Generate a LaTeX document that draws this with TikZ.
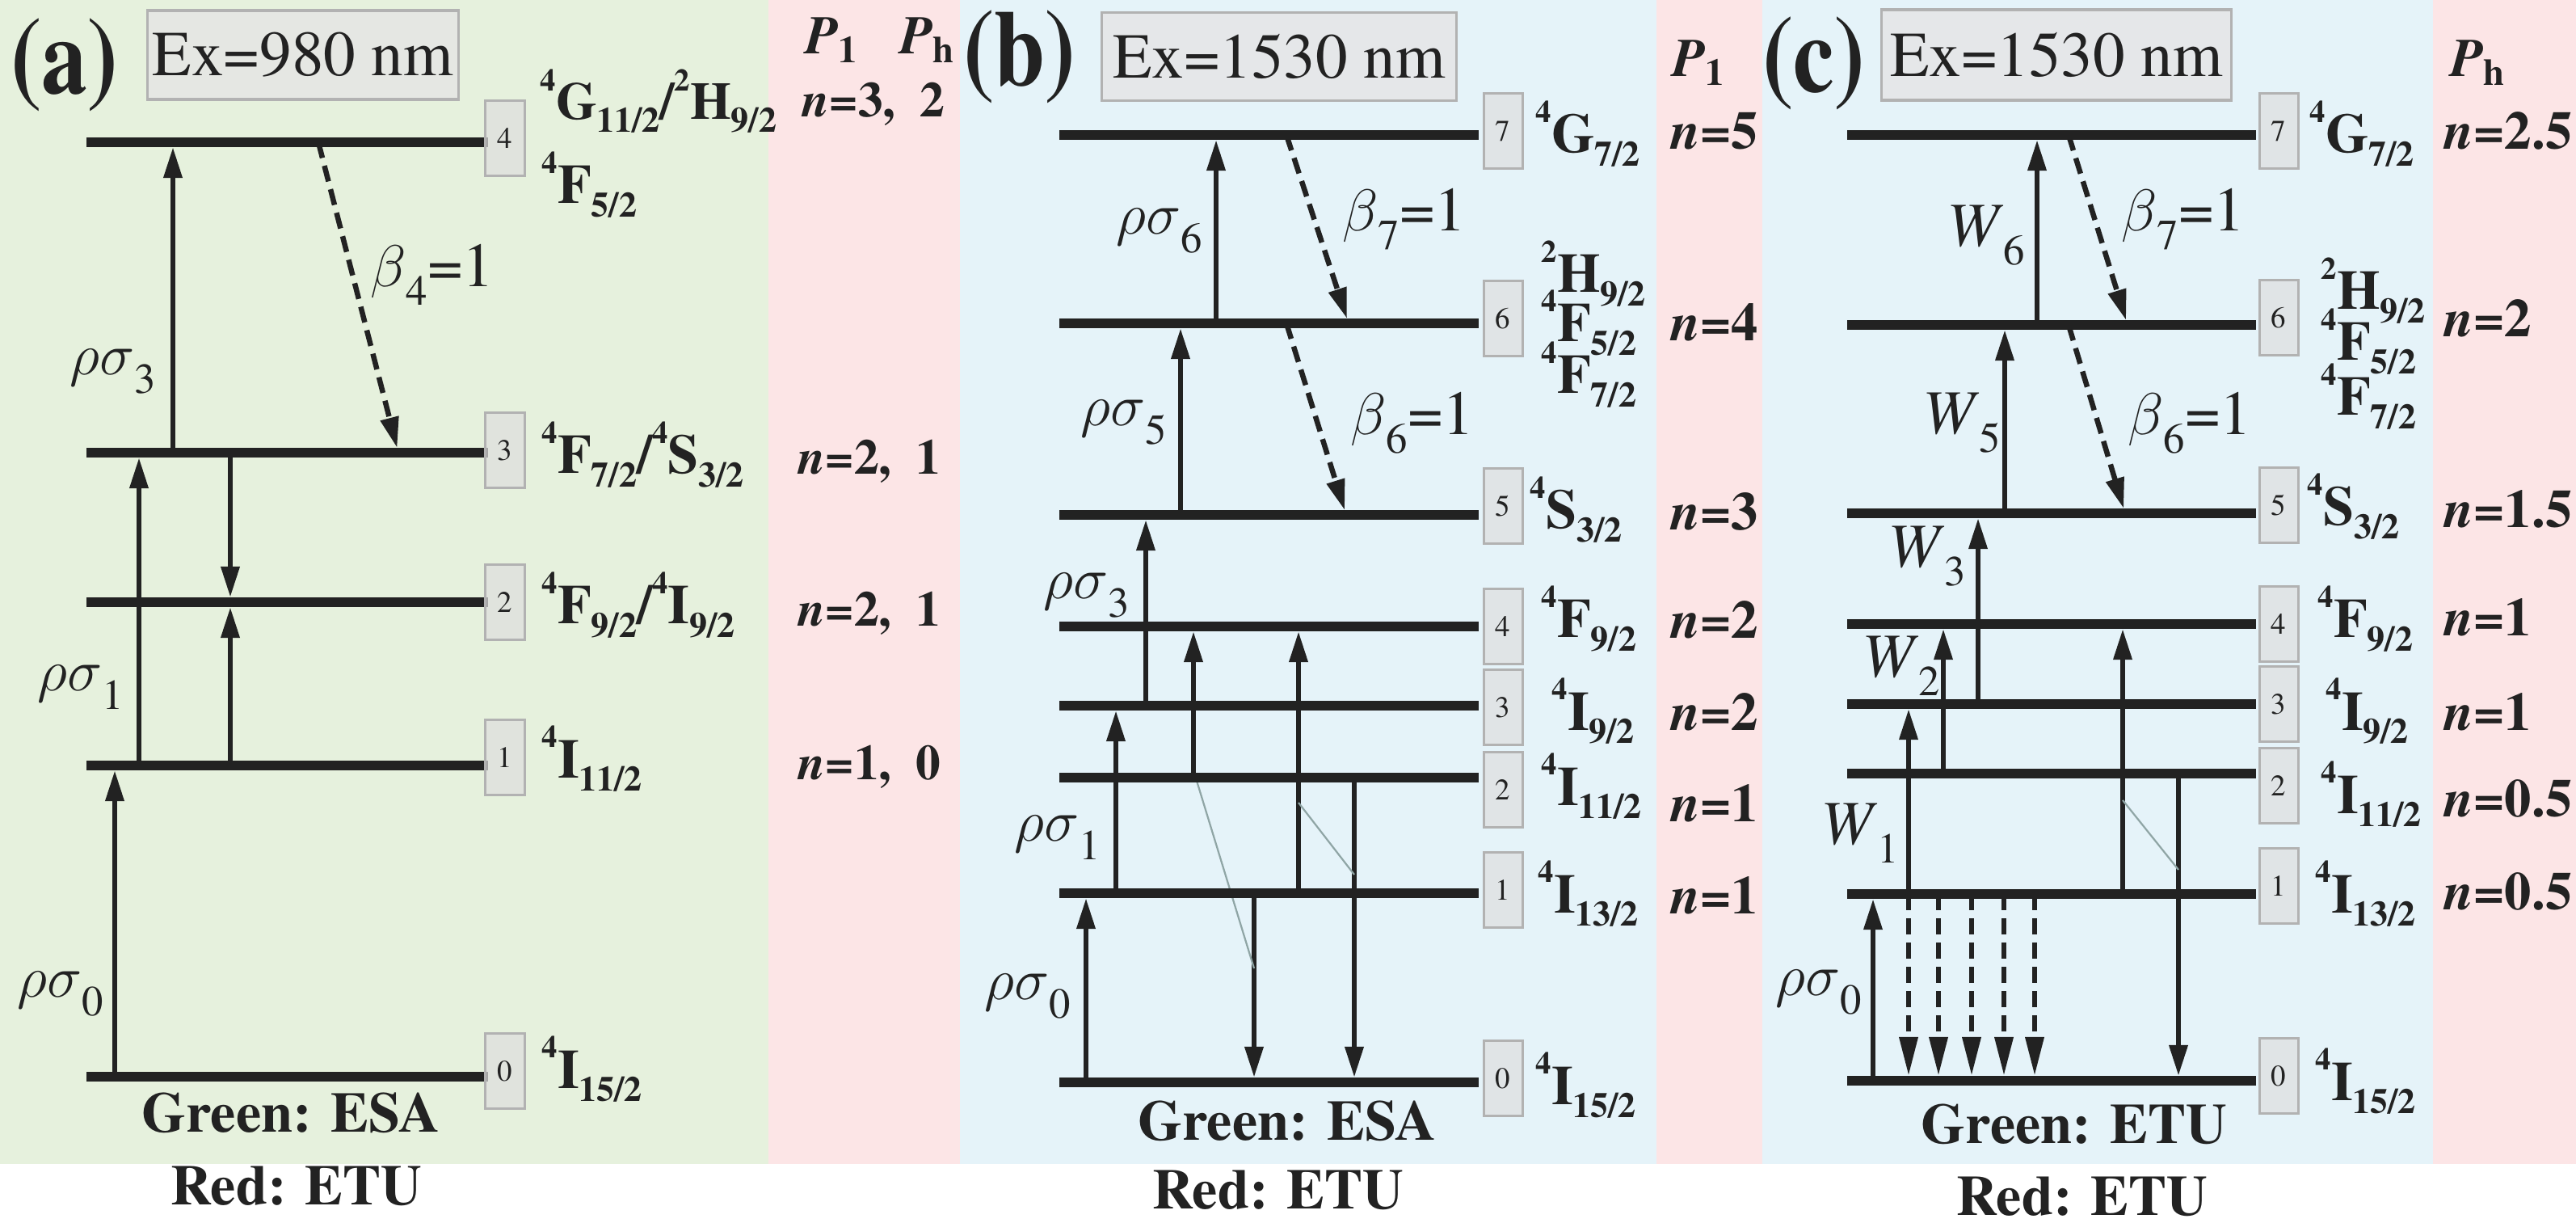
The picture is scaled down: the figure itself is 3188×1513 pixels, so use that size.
\documentclass[tikz,border=0pt]{standalone}
\usepackage{fontspec}
\setmainfont{texgyretermes}[Extension=.otf, UprightFont=*-regular, BoldFont=*-bold, ItalicFont=*-italic, BoldItalicFont=*-bolditalic]
\usepackage{graphicx}
\usetikzlibrary{arrows.meta}
\definecolor{bggreen}{HTML}{E6F1DD}
\definecolor{bgpink}{HTML}{FCE5E6}
\definecolor{bgblue}{HTML}{E5F3F9}
\definecolor{ink}{HTML}{222222}
\definecolor{thinc}{HTML}{8FA5A5}
\newcommand\LT[3]{\raisebox{0.55em}{\fontsize{11}{11}\selectfont #1}#2\raisebox{-0.24em}{\fontsize{12.5}{12.5}\selectfont #3}}
\newcommand\nn[1]{\textit{n}=#1}
\newcommand\sbx[1]{\raisebox{-0.3em}{\fontsize{15}{15}\selectfont #1}}
\newcommand\rs{$\rho\sigma$}
\newcommand\bt{$\beta$}
\tikzset{
  lvline/.style={line width=0.12cm, draw=ink},
  upa/.style={line width=0.065cm, draw=ink, -{Triangle[length=0.38cm,width=0.22cm]}, shorten >=0.06cm},
  dsa/.style={upa, dash pattern=on 0.2cm off 0.1cm},
  dsb/.style={line width=0.065cm, draw=ink, -{Triangle[length=0.48cm,width=0.22cm]}, shorten >=0.06cm, dash pattern=on 0.2cm off 0.1cm},
  thinl/.style={line width=0.022cm, draw=thinc},
  numbox/.style={draw=black!30, fill=black!13, fill opacity=0.7, text opacity=1, line width=0.03cm, minimum width=0.48cm, minimum height=0.93cm, inner sep=0pt, font=\fontsize{10.5}{12}\selectfont},
  term/.style={anchor=base west, inner sep=0pt, font=\bfseries\fontsize{19.5}{22}\selectfont},
  nlab/.style={anchor=base west, inner sep=0pt, font=\bfseries\fontsize{19}{22}\selectfont},
  nlaba/.style={anchor=base west, inner sep=0pt, font=\bfseries\fontsize{17.5}{20}\selectfont},
  rate/.style={inner sep=0pt, font=\fontsize{22}{24}\selectfont},
  capt/.style={inner sep=0pt, font=\bfseries\fontsize{20}{22}\selectfont},
  exbox/.style={draw=black!30, fill=black!10, fill opacity=0.8, text opacity=1, line width=0.035cm, inner sep=0pt, font=\fontsize{22.5}{24}\selectfont},
  plab/.style={inner sep=0pt, font=\bfseries\fontsize{38}{40}\selectfont},
  phead/.style={inner sep=0pt, font=\bfseries\fontsize{19}{22}\selectfont},
}
\begin{document}
\begin{tikzpicture}[x=0.01cm, y=-0.01cm, every node/.append style={text=ink}]
\useasboundingbox (0,0) rectangle (3188,1513);
\fill[white] (0,0) rectangle (3188,1513);
% backgrounds
\fill[bggreen] (0,0) rectangle (951,1440);
\fill[bgpink] (951,0) rectangle (1188,1440);
\fill[bgblue] (1188,0) rectangle (2050,1440);
\fill[bgpink] (2050,0) rectangle (2181,1440);
\fill[bgblue] (2181,0) rectangle (3011,1440);
\fill[bgpink] (3011,0) rectangle (3188,1440);

% ================= panel (a)
\node[plab] (pa) at (80,80) {\scalebox{0.85}[1]{(a)}};
\node[exbox, minimum width=3.85cm, minimum height=1.10cm] (exa) at (375,68) {Ex=980 nm};
\node[phead] (pa1) at (1030,50) {\textit{P}\textsubscript{1}};
\node[phead] (pah) at (1148,50) {\textit{P}\textsubscript{h}};
\coordinate (a0) at (107,1332);
\coordinate (a1) at (107,947);
\coordinate (a2) at (107,745);
\coordinate (a3) at (107,560);
\coordinate (a4) at (107,176);
\draw[upa] (142,0 |- a0) -- (142,0 |- a1);
\draw[upa] (172,0 |- a1) -- (172,0 |- a3);
\draw[upa] (285,0 |- a1) -- (285,0 |- a2);
\draw[upa] (285,0 |- a3) -- (285,0 |- a2);
\draw[upa] (214,0 |- a3) -- (214,0 |- a4);
\draw[dsa] (394,0 |- a4) -- (493,0 |- a3);
\foreach \l in {a0,a1,a2,a3,a4} \draw[lvline] (\l) -- (604,0 |- \l);
\node[numbox] (ba4) at (625,171) {4};
\node[numbox] (ba3) at (625,557) {3};
\node[numbox] (ba2) at (625,745) {2};
\node[numbox] (ba1) at (625,937) {1};
\node[numbox] (ba0) at (625,1325) {0};
\node[term, font=\bfseries\fontsize{18.5}{21}\selectfont] (ta4) at (668,148) {\LT{4}{G}{11/2}/\LT{2}{H}{9/2}};
\node[term] (ta4b) at (670,252) {\LT{4}{F}{5/2}};
\node[term] (ta3) at (670,586) {\LT{4}{F}{7/2}/\LT{4}{S}{3/2}};
\node[term] (ta2) at (670,772) {\LT{4}{F}{9/2}/\LT{4}{I}{9/2}};
\node[term] (ta1) at (670,962) {\LT{4}{I}{11/2}};
\node[term] (ta0) at (670,1346) {\LT{4}{I}{15/2}};
\node[nlaba] (na4) at (992,145) {\nn{3,\ \ 2}};
\node[nlaba] (na3) at (987,587) {\nn{2,\ \ 1}};
\node[nlaba] (na2) at (987,775) {\nn{2,\ \ 1}};
\node[nlaba] (na1) at (987,965) {\nn{1,\ \ 0}};
\node[rate] (ra0) at (75,1230) {\rs\sbx{0}};
\node[rate] (ra1) at (100,850) {\rs\sbx{1}};
\node[rate] (ra3) at (140,460) {\rs\sbx{3}};
\node[rate] (rba4) at (535,340) {\bt\sbx{4}=1};
\node[capt] (ga) at (360,1377) {Green: ESA};
\node[capt] (rda) at (367,1467) {Red: ETU};

% ================= panel (b)
\node[plab] (pb) at (1262,70) {\scalebox{0.85}[1]{(b)}};
\node[exbox, minimum width=4.39cm, minimum height=1.09cm] (exb) at (1583,70) {Ex=1530 nm};
\node[phead] (pb1) at (2103,78) {\textit{P}\textsubscript{1}};
\coordinate (b0) at (1311,1339);
\coordinate (b1) at (1311,1105);
\coordinate (b2) at (1311,962);
\coordinate (b3) at (1311,873);
\coordinate (b4) at (1311,775);
\coordinate (b5) at (1311,637);
\coordinate (b6) at (1311,400);
\coordinate (b7) at (1311,167);
\draw[upa] (1344,0 |- b0) -- (1344,0 |- b1);
\draw[upa] (1381,0 |- b1) -- (1381,0 |- b3);
\draw[upa] (1418,0 |- b3) -- (1418,0 |- b5);
\draw[upa] (1461,0 |- b5) -- (1461,0 |- b6);
\draw[upa] (1505,0 |- b6) -- (1505,0 |- b7);
\draw[upa] (1477,0 |- b2) -- (1477,0 |- b4);
\draw[upa] (1607,0 |- b1) -- (1607,0 |- b4);
\draw[upa] (1552,0 |- b1) -- (1552,0 |- b0);
\draw[upa] (1676,0 |- b2) -- (1676,0 |- b0);
\draw[dsa] (1592,0 |- b7) -- (1669,0 |- b6);
\draw[dsa] (1592,0 |- b6) -- (1666,0 |- b5);
\coordinate (bt1s) at (1481,966);
\coordinate (bt1e) at (1552,1198);
\coordinate (bt2s) at (1607,993);
\coordinate (bt2e) at (1676,1082);
\draw[thinl] (bt1s) -- (bt1e);
\draw[thinl] (bt2s) -- (bt2e);
\foreach \l in {b0,b1,b2,b3,b4,b5,b6,b7} \draw[lvline] (\l) -- (1830,0 |- \l);
\node[numbox] (bb7) at (1860,162) {7};
\node[numbox] (bb6) at (1860,394) {6};
\node[numbox] (bb5) at (1860,626) {5};
\node[numbox] (bb4) at (1860,775) {4};
\node[numbox] (bb3) at (1860,875) {3};
\node[numbox] (bb2) at (1860,977) {2};
\node[numbox] (bb1) at (1860,1101) {1};
\node[numbox] (bb0) at (1860,1334) {0};
\node[term] (tb7) at (1900,189) {\LT{4}{G}{7/2}};
\node[term] (tb6a) at (1907,362) {\LT{2}{H}{9/2}};
\node[term] (tb6b) at (1907,423) {\LT{4}{F}{5/2}};
\node[term] (tb6c) at (1907,487) {\LT{4}{F}{7/2}};
\node[term] (tb5) at (1893,654) {\LT{4}{S}{3/2}};
\node[term] (tb4) at (1907,789) {\LT{4}{F}{9/2}};
\node[term] (tb3) at (1920,903) {\LT{4}{I}{9/2}};
\node[term] (tb2) at (1907,996) {\LT{4}{I}{11/2}};
\node[term] (tb1) at (1903,1129) {\LT{4}{I}{13/2}};
\node[term] (tb0) at (1900,1366) {\LT{4}{I}{15/2}};
\node[nlab] (nb7) at (2067,185) {\nn{5}};
\node[nlab] (nb6) at (2067,422) {\nn{4}};
\node[nlab] (nb5) at (2067,656) {\nn{3}};
\node[nlab] (nb4) at (2067,790) {\nn{2}};
\node[nlab] (nb3) at (2067,903) {\nn{2}};
\node[nlab] (nb2) at (2067,1016) {\nn{1}};
\node[nlab] (nb1) at (2067,1130) {\nn{1}};
\node[rate] (rb6) at (1435,286) {\rs\sbx{6}};
\node[rate] (rbb7) at (1738,271) {\bt\sbx{7}=1};
\node[rate] (rb5) at (1391,523) {\rs\sbx{5}};
\node[rate] (rbb6) at (1748,523) {\bt\sbx{6}=1};
\node[rate] (rb3) at (1345,737) {\rs\sbx{3}};
\node[rate] (rb1) at (1309,1036) {\rs\sbx{1}};
\node[rate] (rb0) at (1272,1233) {\rs\sbx{0}};
\node[capt] (gb) at (1593,1387) {Green: ESA};
\node[capt] (rdb) at (1582,1472) {Red: ETU};

% ================= panel (c)
\node[plab] (pc) at (2245,78) {\scalebox{0.85}[1]{(c)}};
\node[exbox, minimum width=4.33cm, minimum height=1.12cm] (exc) at (2545,68) {Ex=1530 nm};
\node[phead] (pch) at (3067,78) {\textit{P}\textsubscript{h}};
\coordinate (c0) at (2286,1337);
\coordinate (c1) at (2286,1106);
\coordinate (c2) at (2286,957);
\coordinate (c3) at (2286,871);
\coordinate (c4) at (2286,772);
\coordinate (c5) at (2286,635);
\coordinate (c6) at (2286,402);
\coordinate (c7) at (2286,167);
\draw[upa] (2318,0 |- c0) -- (2318,0 |- c1);
\draw[upa] (2362,0 |- c1) -- (2362,0 |- c3);
\draw[upa] (2405,0 |- c2) -- (2405,0 |- c4);
\draw[upa] (2448,0 |- c3) -- (2448,0 |- c5);
\draw[upa] (2481,0 |- c5) -- (2481,0 |- c6);
\draw[upa] (2521,0 |- c6) -- (2521,0 |- c7);
\draw[upa] (2627,0 |- c1) -- (2627,0 |- c4);
\draw[upa] (2696,0 |- c2) -- (2696,0 |- c0);
\foreach \xx in {2362,2399,2440,2480,2518} \draw[dsb] (\xx,0 |- c1) -- (\xx,0 |- c0);
\draw[dsa] (2560,0 |- c7) -- (2633,0 |- c6);
\draw[dsa] (2560,0 |- c6) -- (2630,0 |- c5);
\coordinate (ct1s) at (2627,990);
\coordinate (ct1e) at (2696,1076);
\draw[thinl] (ct1s) -- (ct1e);
\foreach \l in {c0,c1,c2,c3,c4,c5,c6,c7} \draw[lvline] (\l) -- (2792,0 |- \l);
\node[numbox] (cb7) at (2820,162) {7};
\node[numbox] (cb6) at (2820,393) {6};
\node[numbox] (cb5) at (2820,625) {5};
\node[numbox] (cb4) at (2820,772) {4};
\node[numbox] (cb3) at (2820,871) {3};
\node[numbox] (cb2) at (2820,972) {2};
\node[numbox] (cb1) at (2820,1096) {1};
\node[numbox] (cb0) at (2820,1331) {0};
\node[term] (tc7) at (2858,189) {\LT{4}{G}{7/2}};
\node[term] (tc6a) at (2872,383) {\LT{2}{H}{9/2}};
\node[term] (tc6b) at (2872,446) {\LT{4}{F}{5/2}};
\node[term] (tc6c) at (2872,514) {\LT{4}{F}{7/2}};
\node[term] (tc5) at (2855,650) {\LT{4}{S}{3/2}};
\node[term] (tc4) at (2868,789) {\LT{4}{F}{9/2}};
\node[term] (tc3) at (2878,903) {\LT{4}{I}{9/2}};
\node[term] (tc2) at (2872,1006) {\LT{4}{I}{11/2}};
\node[term] (tc1) at (2865,1129) {\LT{4}{I}{13/2}};
\node[term] (tc0) at (2865,1361) {\LT{4}{I}{15/2}};
\node[nlab] (nc7) at (3024,185) {\nn{2.5}};
\node[nlab] (nc6) at (3024,417) {\nn{2}};
\node[nlab] (nc5) at (3024,653) {\nn{1.5}};
\node[nlab] (nc4) at (3024,787) {\nn{1}};
\node[nlab] (nc3) at (3024,903) {\nn{1}};
\node[nlab] (nc2) at (3024,1011) {\nn{0.5}};
\node[nlab] (nc1) at (3024,1125) {\nn{0.5}};
\node[rate] (rc6) at (2458,291) {\textit{W}\sbx{6}};
\node[rate] (rcb7) at (2702,271) {\bt\sbx{7}=1};
\node[rate] (rc5) at (2428,523) {\textit{W}\sbx{5}};
\node[rate] (rcb6) at (2710,523) {\bt\sbx{6}=1};
\node[rate] (rc3) at (2385,688) {\textit{W}\sbx{3}};
\node[rate] (rc2) at (2353,824) {\textit{W}\sbx{2}};
\node[rate] (rc1) at (2302,1031) {\textit{W}\sbx{1}};
\node[rate] (rc0) at (2251,1228) {\rs\sbx{0}};
\node[capt] (gc) at (2567,1391) {Green: ETU};
\node[capt] (rdc) at (2577,1480) {Red: ETU};
\end{tikzpicture}
\end{document}
